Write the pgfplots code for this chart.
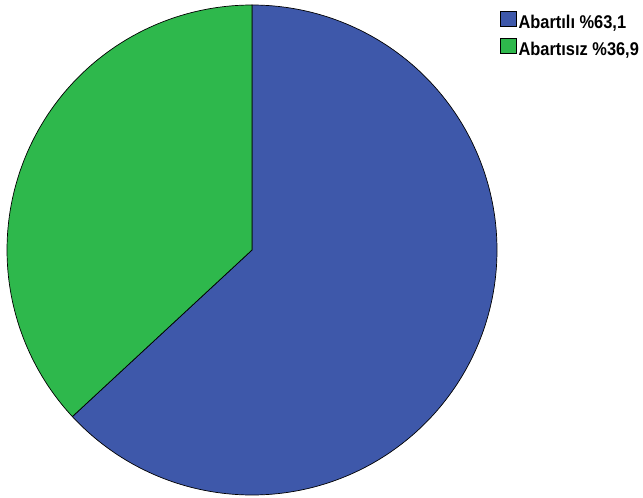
\documentclass[border=0pt]{standalone}
\usepackage{pgfplots}
\pgfplotsset{compat=1.18}
\usepackage{pgfplotstable}
\usepackage{fontspec}
\setmainfont{Liberation Sans}
\newfontfamily\legfont[FakeStretch=0.89]{Liberation Sans Bold}
\definecolor{pieblue}{HTML}{3E58AA}
\definecolor{piegreen}{HTML}{2EB84C}
\pgfplotstableread{
label value
Abartili 63.1
Abartisiz 36.9
}\piedata
\pgfplotstablegetelem{0}{value}\of\piedata \let\valA\pgfplotsretval
\pgfplotstablegetelem{1}{value}\of\piedata \let\valB\pgfplotsretval
\begin{document}
\begin{tikzpicture}
\begin{axis}[
  scale only axis, width=643bp, height=498bp,
  xmin=-1.0286, xmax=1.5959, ymin=-1.0122, ymax=1.0204,
  hide axis, clip=false,
  legend cell align=left,
  legend style={draw=none, fill=none, inner sep=0pt, outer sep=0pt,
    font=\legfont\fontsize{18.5}{20}\selectfont,
    row sep=5.5bp,
    nodes={inner sep=0pt, text height=13.5bp, text depth=3.5bp},
    at={(rel axis cs:0.7776,0.9780)}, anchor=north west,
    /tikz/every odd column/.append style={column sep=2.5bp}},
  legend image code/.code={\draw[#1, line width=0.6pt] (0bp,-3bp) rectangle (15.5bp,12.5bp);},
]
\path (rel axis cs:0,0) rectangle (rel axis cs:1,1);
\addplot[fill=pieblue, draw=black, line width=0.7pt, domain=0:\valA, samples=240, variable=\t]
  ({cos(90-3.6*t)},{sin(90-3.6*t)}) -- (axis cs:0,0) -- cycle;
\addlegendentry{Abartılı \%63,1}
\addplot[fill=piegreen, draw=black, line width=0.7pt, domain=\valA:100, samples=160, variable=\t]
  ({cos(90-3.6*t)},{sin(90-3.6*t)}) -- (axis cs:0,0) -- cycle;
\addlegendentry{Abartısız \%36,9}
\end{axis}
\end{tikzpicture}
\end{document}
